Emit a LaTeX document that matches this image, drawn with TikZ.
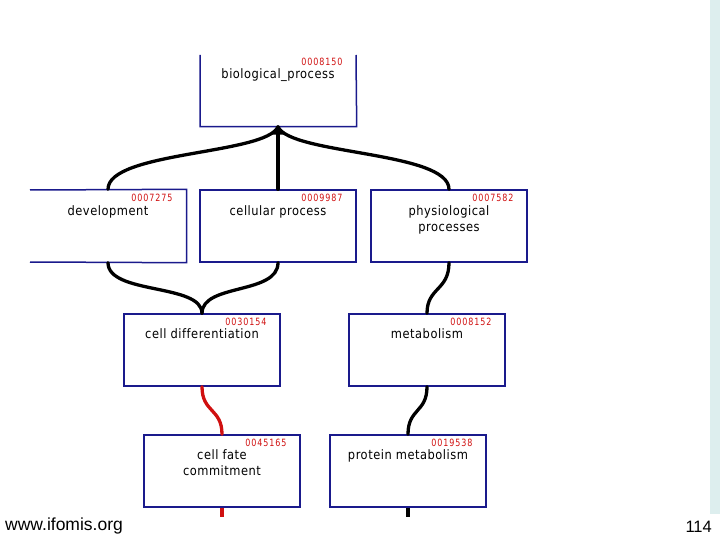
\documentclass[tikz,border=0pt]{standalone}
\usepackage{fontspec}
\setmainfont{Liberation Sans}
\newfontfamily\gofont[LetterSpace=4,FakeStretch=0.88,Ligatures=NoCommon]{DejaVu Sans}
\newfontfamily\idfont[LetterSpace=9,FakeStretch=0.8]{DejaVu Sans}
\definecolor{GoBlue}{HTML}{1A1A8C}
\definecolor{GoRed}{HTML}{D01010}
\definecolor{StripBlue}{HTML}{DDEEEE}
\usetikzlibrary{positioning,calc,arrows.meta}

\tikzset{
  gobox/.style={draw=GoBlue, line width=1.4pt, minimum width=156pt, minimum height=72pt, inner sep=0pt},
  openbox/.style={gobox, draw=none},
  golabel/.style={font=\gofont\fontsize{13}{16}\selectfont, align=center, anchor=north, inner sep=0pt},
  goid/.style={font=\idfont\fontsize{10}{10}\selectfont, text=GoRed, anchor=north east, inner sep=0pt},
  edge/.style={line width=3.3pt, line cap=round},
}

\begin{document}
\begin{tikzpicture}[x=1pt,y=-1pt]
  \useasboundingbox (0,0) rectangle (720,540);
  \fill[StripBlue] (710,0) rectangle (720,514);

  %% boxes
  \node[openbox] (bp)  at (278,90)  {};
  \node[openbox] (dev) at (108,226) {};
  \node[gobox]   (cel) at (278,226) {};
  \node[gobox]   (phy) at (449,226) {};
  \node[gobox]   (cdf) at (202,350) {};
  \node[gobox]   (met) at (427,350) {};
  \node[gobox]   (cfc) at (222,471) {};
  \node[gobox]   (pro) at (408,471) {};
  %% partly cut boxes
  \draw[GoBlue, line width=1.5pt] (200,55) |- (bp.south east) -- (356,55);
  \draw[GoBlue, line width=1.5pt] (30,190) -- (dev.north east) -- (dev.south east) -- (30,262);

  %% ids and names
  \foreach \b/\id in {bp/0008150, dev/0007275, cel/0009987, phy/0007582,
                      cdf/0030154, met/0008152, cfc/0045165, pro/0019538}
    \node[goid] (\b-id) at ($(\b.north east)+(-14,5)$) {\id};
  \node[golabel] (bp-txt)  at ($(bp.north)+(0,15)$)  {biological\_process};
  \node[golabel] (dev-txt) at ($(dev.north)+(0,16)$) {development};
  \node[golabel] (cel-txt) at ($(cel.north)+(0,16)$) {cellular process};
  \node[golabel] (phy-txt) at ($(phy.north)+(0,16)$) {physiological\\processes};
  \node[golabel] (cdf-txt) at ($(cdf.north)+(0,15)$) {cell differentiation};
  \node[golabel] (met-txt) at ($(met.north)+(0,15)$) {metabolism};
  \node[golabel] (cfc-txt) at ($(cfc.north)+(0,15)$) {cell fate\\commitment};
  \node[golabel] (pro-txt) at ($(pro.north)+(0,15)$) {protein metabolism};

  %% connectors
  \draw[edge, {Triangle[width=12pt,length=8pt]}-] (bp.south) -- (cel.north);
  \draw[edge] (bp.south) .. controls +(-12,28) and +(0,-38) .. (dev.north);
  \draw[edge] (bp.south) .. controls +(12,28) and +(0,-38) .. (phy.north);
  \draw[edge] (dev.south) .. controls +(0,32) and +(0,-30) .. (cdf.north);
  \draw[edge] (cel.south) .. controls +(0,32) and +(0,-30) .. (cdf.north);
  \draw[edge] (phy.south) .. controls +(0,28) and +(0,-26) .. (met.north);
  \draw[edge, GoRed] (cdf.south) .. controls +(0,26) and +(0,-26) .. (cfc.north);
  \draw[edge] (met.south) .. controls +(0,26) and +(0,-26) .. (pro.north);
  \coordinate (cfc-end) at ($(cfc.south)+(0,9)$);
  \coordinate (pro-end) at ($(pro.south)+(0,9)$);
  \draw[edge, GoRed, line cap=butt] (cfc.south) -- (cfc-end);
  \draw[edge, line cap=butt] (pro.south) -- (pro-end);

  %% footer
  \node[font=\fontsize{17.5}{20}\selectfont, anchor=west, inner sep=0pt] (site) at (5,526) {www.ifomis.org};
  \node[font=\fontsize{16.5}{18}\selectfont, anchor=east, inner sep=0pt] (page) at (712,527) {114};
\end{tikzpicture}
\end{document}
